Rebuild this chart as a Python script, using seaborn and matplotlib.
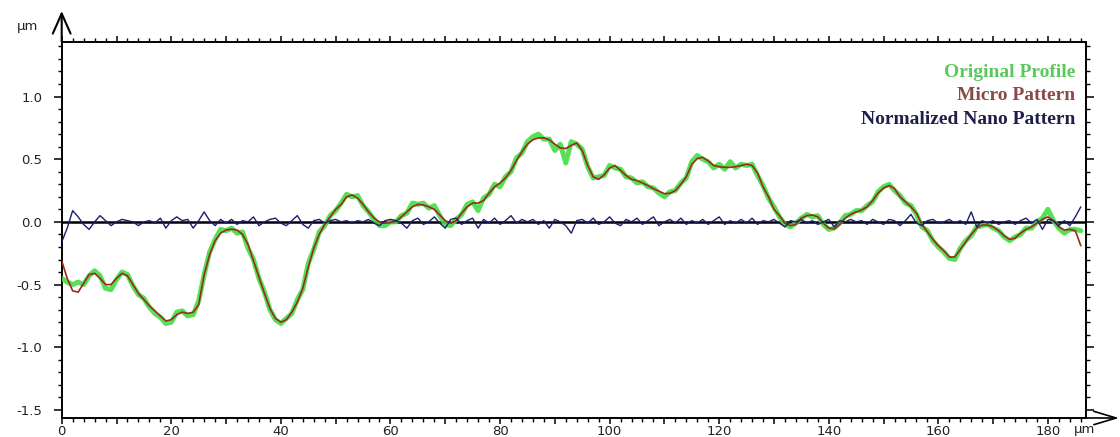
import numpy as np
import pandas as pd
import matplotlib
matplotlib.use("Agg")
import matplotlib.pyplot as plt
from matplotlib.ticker import MultipleLocator, FuncFormatter
import seaborn as sns

# --- DATA (1 µm steps) ---
position_um = np.arange(0, 187)

micro_pattern = [
    -0.31, -0.45, -0.55, -0.56, -0.49, -0.42, -0.41, -0.45, -0.50, -0.50,
    -0.45, -0.41, -0.43, -0.50, -0.57, -0.62, -0.67, -0.71, -0.75, -0.79,
    -0.78, -0.74, -0.72, -0.73, -0.72, -0.66, -0.42, -0.26, -0.15, -0.09,
    -0.065, -0.058, -0.065, -0.10, -0.18, -0.31, -0.44, -0.57, -0.69, -0.77,
    -0.80, -0.78, -0.72, -0.64, -0.53, -0.36, -0.21, -0.10, -0.02, 0.04,
    0.10, 0.14, 0.20, 0.215, 0.19, 0.14, 0.08, 0.03, 0.00, -0.01,
    -0.005, 0.005, 0.04, 0.08, 0.12, 0.14, 0.135, 0.12, 0.10, 0.055,
    0.01, -0.01, 0.01, 0.07, 0.12, 0.15, 0.15, 0.17, 0.23, 0.28,
    0.31, 0.35, 0.41, 0.49, 0.56, 0.62, 0.655, 0.67, 0.67, 0.655,
    0.62, 0.59, 0.585, 0.61, 0.63, 0.57, 0.45, 0.36, 0.34, 0.375,
    0.43, 0.45, 0.41, 0.37, 0.34, 0.33, 0.31, 0.29, 0.265, 0.245,
    0.225, 0.228, 0.25, 0.30, 0.36, 0.46, 0.505, 0.515, 0.485, 0.45,
    0.44, 0.435, 0.435, 0.44, 0.45, 0.46, 0.45, 0.39, 0.28, 0.20,
    0.10, 0.05, -0.01, -0.03, -0.02, 0.03, 0.05, 0.055, 0.04, -0.01,
    -0.05, -0.055, -0.02, 0.03, 0.06, 0.08, 0.095, 0.12, 0.17, 0.23,
    0.27, 0.29, 0.265, 0.20, 0.16, 0.12, 0.07, -0.02, -0.08, -0.14,
    -0.19, -0.23, -0.28, -0.28, -0.22, -0.16, -0.10, -0.05, -0.025, -0.025,
    -0.04, -0.07, -0.11, -0.14, -0.13, -0.09, -0.06, -0.04, -0.01, 0.02,
    0.04, 0.01, -0.04, -0.065, -0.06, -0.07, -0.19,
]

original_profile = [
    -0.45, -0.48, -0.50, -0.48, -0.50, -0.43, -0.39, -0.43, -0.53, -0.54,
    -0.46, -0.40, -0.42, -0.51, -0.58, -0.61, -0.68, -0.73, -0.76, -0.81,
    -0.80, -0.72, -0.71, -0.75, -0.74, -0.63, -0.42, -0.24, -0.14, -0.06,
    -0.07, -0.05, -0.09, -0.08, -0.21, -0.30, -0.45, -0.56, -0.70, -0.78,
    -0.81, -0.77, -0.73, -0.62, -0.54, -0.33, -0.22, -0.08, -0.03, 0.05,
    0.09, 0.15, 0.22, 0.20, 0.21, 0.13, 0.08, 0.02, -0.03, -0.03,
    0.00, 0.00, 0.05, 0.07, 0.15, 0.14, 0.15, 0.11, 0.13, 0.05,
    -0.02, -0.03, 0.02, 0.06, 0.14, 0.16, 0.09, 0.19, 0.22, 0.30,
    0.28, 0.36, 0.40, 0.51, 0.55, 0.64, 0.68, 0.70, 0.66, 0.66,
    0.57, 0.62, 0.47, 0.64, 0.62, 0.58, 0.44, 0.35, 0.36, 0.37,
    0.45, 0.43, 0.42, 0.36, 0.35, 0.31, 0.32, 0.28, 0.27, 0.23,
    0.20, 0.24, 0.25, 0.31, 0.35, 0.48, 0.53, 0.50, 0.48, 0.43,
    0.46, 0.42, 0.48, 0.43, 0.46, 0.45, 0.46, 0.37, 0.29, 0.19,
    0.12, 0.04, -0.02, -0.04, -0.01, 0.03, 0.06, 0.04, 0.05, -0.02,
    -0.06, -0.05, -0.01, 0.05, 0.06, 0.09, 0.09, 0.13, 0.16, 0.24,
    0.28, 0.30, 0.25, 0.21, 0.15, 0.13, 0.06, -0.04, -0.07, -0.15,
    -0.20, -0.24, -0.29, -0.30, -0.21, -0.15, -0.11, -0.04, -0.03, -0.02,
    -0.05, -0.07, -0.12, -0.15, -0.12, -0.10, -0.05, -0.05, 0.00, 0.03,
    0.10, 0.01, -0.05, -0.09, -0.06, -0.06, -0.07,
]

nano_pattern = [
    -0.16, -0.05, 0.09, 0.04, -0.02, -0.06, 0.00, 0.05, 0.01, -0.03,
    0.00, 0.02, 0.01, 0.00, -0.03, 0.00, 0.01, -0.01, 0.03, -0.05,
    0.01, 0.04, 0.01, 0.02, -0.05, 0.01, 0.08, 0.01, -0.03, 0.02,
    -0.01, 0.02, -0.02, 0.01, 0.00, 0.04, -0.03, 0.00, 0.02, 0.03,
    -0.01, -0.03, 0.01, 0.05, -0.02, -0.05, 0.01, 0.02, -0.01, 0.01,
    0.02, 0.00, 0.01, -0.01, 0.01, 0.00, 0.02, -0.01, -0.03, 0.01,
    0.02, 0.01, -0.01, -0.05, 0.01, 0.03, -0.02, 0.00, 0.04, -0.01,
    -0.05, 0.02, 0.03, -0.02, 0.01, 0.03, -0.05, 0.02, -0.01, 0.03,
    -0.02, 0.01, 0.05, -0.01, 0.02, 0.00, 0.02, -0.02, 0.01, -0.05,
    0.02, 0.00, -0.03, -0.09, 0.01, 0.02, -0.01, 0.03, -0.02, 0.00,
    0.04, -0.01, -0.03, 0.02, 0.00, 0.03, -0.02, 0.01, 0.04, -0.03,
    0.00, 0.02, -0.01, 0.03, -0.02, 0.01, -0.01, 0.02, -0.02, 0.01,
    0.04, -0.02, 0.01, -0.01, 0.02, -0.01, 0.03, -0.02, 0.01, 0.00,
    0.02, -0.01, -0.04, 0.01, 0.00, 0.02, -0.01, 0.01, -0.02, 0.00,
    0.02, -0.04, 0.01, 0.00, 0.02, 0.00, 0.01, -0.02, 0.02, 0.00,
    -0.02, 0.02, 0.01, -0.03, 0.01, 0.06, -0.01, -0.03, 0.01, 0.02,
    -0.01, 0.00, 0.02, -0.01, 0.01, -0.02, 0.08, -0.04, 0.01, -0.01,
    0.01, -0.02, 0.00, 0.01, -0.02, 0.01, 0.03, -0.01, 0.02, -0.06,
    0.02, 0.01, -0.03, 0.01, -0.03, 0.04, 0.12,
]

series_labels = ["Original Profile", "Micro Pattern", "Normalized Nano Pattern"]
label_colors = ["#5cc85c", "#8c4a47", "#1f1f4a"]

# --- STYLE ---
sns.set_style("ticks")
plt.rcParams["font.family"] = ["DejaVu Sans"]
plt.rcParams["axes.unicode_minus"] = False

fig = plt.figure(figsize=(11.2, 4.37), dpi=100)
ax = fig.add_axes([0.0551, 0.0435, 0.9143, 0.861])

# --- LINES ---
ax.axhline(0, color="black", lw=1.8, zorder=2)
sns.lineplot(x=position_um, y=original_profile, ax=ax, color="#44dd44",
             linewidth=3.6, alpha=0.9, zorder=3)
sns.lineplot(x=position_um, y=micro_pattern, ax=ax, color="#9a2a1e",
             linewidth=1.2, zorder=4)
sns.lineplot(x=position_um, y=nano_pattern, ax=ax, color="#1c1c78",
             linewidth=1.0, zorder=5)

ax.set_xlim(0, 186.9)
ax.set_ylim(-1.564, 1.437)

# --- AXES / TICKS ---
for side in ["left", "right", "top", "bottom"]:
    ax.spines[side].set_visible(True)
    ax.spines[side].set_color("black")
    ax.spines[side].set_linewidth(1.4)

ax.xaxis.set_major_locator(MultipleLocator(10))
ax.xaxis.set_minor_locator(MultipleLocator(2))
ax.xaxis.set_major_formatter(FuncFormatter(
    lambda v, p: f"{v:.0f}" if round(v) % 20 == 0 else ""))
ax.yaxis.set_major_locator(MultipleLocator(0.5))
ax.yaxis.set_minor_locator(MultipleLocator(0.1))
ax.yaxis.set_major_formatter(FuncFormatter(lambda v, p: f"{v:.1f}"))

ax.tick_params(axis="both", which="both", direction="out", color="black",
               top=True, right=True, labeltop=False, labelright=False,
               labelsize=9.5, labelcolor="#222222")
ax.tick_params(axis="both", which="major", length=6, width=1.1)
ax.tick_params(axis="both", which="minor", length=3, width=1.0)
ax.tick_params(axis="x", which="major", length=4, pad=1)
ax.tick_params(axis="y", which="major", pad=8)

ax.set_xlabel("")
ax.set_ylabel("")

# axis arrows and unit labels
ax.annotate("", xy=(61.7, 437 - 11), xycoords="figure pixels",
            xytext=(61.7, 437 - 41.7), textcoords="figure pixels",
            arrowprops=dict(arrowstyle="->,head_length=0.9,head_width=0.4",
                            lw=1.5, color="black", mutation_scale=16,
                            shrinkA=0, shrinkB=0))
ax.annotate("", xy=(1119, 437 - 418), xycoords="figure pixels",
            xytext=(1085.7, 437 - 418), textcoords="figure pixels",
            arrowprops=dict(arrowstyle="->,head_length=1.0,head_width=0.3",
                            lw=1.2, color="black", mutation_scale=16,
                            shrinkA=0, shrinkB=0))
fig.text(17 / 1120, 1 - 30 / 437, "µm", fontsize=9.5, color="#222222",
         ha="left", va="baseline")
fig.text(1074 / 1120, 1 - 423 / 437, "µm", fontsize=9.5, color="#222222",
         ha="left", va="top")

# text legend in the upper right
for label, color, ypix in zip(series_labels, label_colors, [76.7, 100, 124]):
    fig.text(1075 / 1120, 1 - ypix / 437, label, color=color,
             family=["Liberation Serif", "DejaVu Serif"], fontweight="bold",
             fontsize=14, ha="right", va="baseline")

fig.savefig("out.png", dpi=100)
